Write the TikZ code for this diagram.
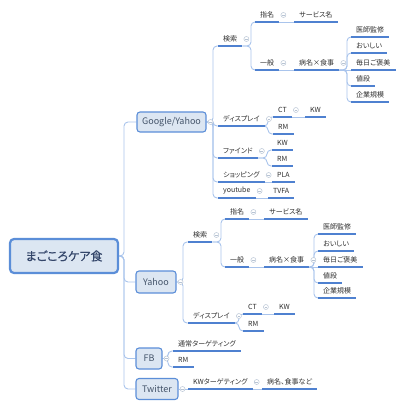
\documentclass[tikz,border=0pt]{standalone}
\usepackage{fontspec}
\setmainfont{Noto Sans CJK JP}[RawFeature=+palt]
\newfontfamily\rootfont{Noto Sans CJK JP}[RawFeature=+palt, FakeBold=0.6]
\usetikzlibrary{backgrounds}
\definecolor{lineblue}{HTML}{A9C4EC}
\definecolor{ulblue}{HTML}{4F81D0}
\definecolor{boxfill}{HTML}{DCE6F2}
\definecolor{boxline}{HTML}{5B8ED8}
\definecolor{boxtext}{HTML}{44546A}
\definecolor{roottext}{HTML}{34466A}
\definecolor{topictext}{HTML}{2E2E2E}
\definecolor{foldgray}{HTML}{B8C4D4}
\tikzset{
  rootbox/.style={draw=boxline, line width=2.2pt, fill=boxfill, rounded corners=4pt,
    minimum width=108pt, minimum height=34pt, text=roottext, font=\rootfont\fontsize{12}{12}\selectfont, inner sep=0pt},
  box/.style={draw=boxline, line width=1.1pt, fill=boxfill, rounded corners=3pt,
    minimum height=20pt, text=boxtext, font=\fontsize{9}{9}\selectfont, inner sep=0pt},
  topic/.style={anchor=south west, inner xsep=5pt, inner ysep=0pt, minimum height=14pt,
    text=topictext, font=\fontsize{7}{7}\selectfont,
    append after command={(\tikzlastnode.south west) edge[uline] (\tikzlastnode.south east)}},
  uline/.style={draw=ulblue, line width=1.4pt},
  conn/.style={draw=lineblue, line width=0.9pt, rounded corners=4pt},
  fold/.style={circle, draw=foldgray, fill=white, line width=0.5pt, minimum size=5pt, inner sep=0pt,
    path picture={\draw[foldgray, line width=0.5pt] ([xshift=-1.4pt]path picture bounding box.center) -- ([xshift=1.4pt]path picture bounding box.center);}},
}
% link: parent anchor, vertical coordinate, child anchor
\newcommand\mmlink[3]{\draw[conn] (#1) -- (#2 |- #1) |- (#3);}
\newcommand\mmfold[1]{\node[fold] at ([xshift=4pt,yshift=7pt]#1.south east) {};}
\newcommand\mmboxfold[1]{\node[fold] at ([xshift=4pt]#1.east) {};}
\begin{document}
\begin{tikzpicture}[x=1pt,y=-1pt]
\useasboundingbox (0,0) rectangle (405,409);
% ---------- root and main boxes
\node[rootbox] (root) at (64,256) {まごころケア食};
\node[box, minimum width=69pt] (gy) at (171.5,122) {Google/Yahoo};
\node[box, minimum width=40pt, minimum height=22pt] (ya) at (156,282) {Yahoo};
\node[box, minimum width=26pt, minimum height=21pt] (fb) at (149,358.5) {FB};
\node[box, minimum width=42pt, minimum height=21pt] (tw) at (157,389) {Twitter};
\coordinate (vroot) at (124,0);
% ---------- Google/Yahoo
\node[topic] (gys) at (218,46) {検索};
\node[topic] (gyd) at (218,126) {ディスプレイ};
\node[topic] (gyf) at (218,158) {ファインド};
\node[topic] (gysh) at (218,182) {ショッピング};
\node[topic] (gyy) at (218,198) {youtube};
\coordinate (vgy) at (213,0);
\node[topic] (gys1) at (255,22) {指名};
\node[topic] (gys2) at (255,70) {一般};
\coordinate (vgys) at (251,0);
\node[topic] (gys1a) at (294,22) {サービス名};
\node[topic] (gys2a) at (294,70) {病名×食事};
\coordinate (vgys2a) at (347,0);
\node[topic] (gyl1) at (351,37) {医師監修};
\node[topic] (gyl2) at (351,53) {おいしい};
\node[topic] (gyl3) at (351,70) {毎日ご褒美};
\node[topic] (gyl4) at (351,86) {値段};
\node[topic] (gyl5) at (351,102) {企業規模};
\node[topic] (gydct) at (273,117) {CT};
\node[topic] (gydrm) at (273,134) {RM};
\coordinate (vgyd) at (268,0);
\node[topic] (gydkw) at (305,117) {KW};
\node[topic] (gyfkw) at (272,150) {KW};
\node[topic] (gyfrm) at (272,166) {RM};
\coordinate (vgyf) at (267,0);
\node[topic] (gypla) at (272,182) {PLA};
\node[topic] (gytv) at (268,198) {TVFA};
% ---------- Yahoo
\node[topic] (yas) at (188,242) {検索};
\node[topic] (yad) at (188,323) {ディスプレイ};
\coordinate (vya) at (183,0);
\node[topic] (yas1) at (225,219) {指名};
\node[topic] (yas2) at (225,267) {一般};
\coordinate (vyas) at (221,0);
\node[topic] (yas1a) at (264,219) {サービス名};
\node[topic] (yas2a) at (264,267) {病名×食事};
\coordinate (vyas2a) at (314,0);
\node[topic] (yal1) at (318,234) {医師監修};
\node[topic] (yal2) at (318,251) {おいしい};
\node[topic] (yal3) at (318,267) {毎日ご褒美};
\node[topic] (yal4) at (318,283) {値段};
\node[topic] (yal5) at (318,298) {企業規模};
\node[topic] (yadct) at (243,314) {CT};
\node[topic] (yadrm) at (243,331) {RM};
\coordinate (vyad) at (239,0);
\node[topic] (yadkw) at (274,314) {KW};
% ---------- FB
\node[topic] (fb1) at (173,351) {通常ターゲティング};
\node[topic] (fb2) at (173,367) {RM};
\coordinate (vfb) at (168,0);
% ---------- Twitter
\node[topic] (tw1) at (188,389) {KWターゲティング};
\node[topic] (tw2) at (262,389) {病名、食事など};
% ---------- fold markers
\mmboxfold{gy}\mmboxfold{ya}\mmboxfold{fb}\mmboxfold{tw}
\mmfold{gys}\mmfold{gys1}\mmfold{gys2}\mmfold{gys2a}
\mmfold{gyd}\mmfold{gydct}\mmfold{gyf}\mmfold{gysh}\mmfold{gyy}
\mmfold{yas}\mmfold{yas1}\mmfold{yas2}\mmfold{yas2a}
\mmfold{yad}\mmfold{yadct}\mmfold{tw1}
% ---------- connectors
\begin{pgfonlayer}{background}
\mmlink{root.east}{vroot}{gy.west}
\mmlink{root.east}{vroot}{ya.west}
\mmlink{root.east}{vroot}{fb.west}
\mmlink{root.east}{vroot}{tw.west}
\foreach \c in {gys,gyd,gyf,gysh,gyy} {\mmlink{gy.east}{vgy}{\c.south west}}
\mmlink{gys.south east}{vgys}{gys1.south west}
\mmlink{gys.south east}{vgys}{gys2.south west}
\draw[conn] (gys1.south east) -- (gys1a.south west);
\draw[conn] (gys2.south east) -- (gys2a.south west);
\foreach \c in {gyl1,gyl2,gyl4,gyl5} {\mmlink{gys2a.south east}{vgys2a}{\c.south west}}
\draw[conn] (gys2a.south east) -- (gyl3.south west);
\mmlink{gyd.south east}{vgyd}{gydct.south west}
\mmlink{gyd.south east}{vgyd}{gydrm.south west}
\draw[conn] (gydct.south east) -- (gydkw.south west);
\mmlink{gyf.south east}{vgyf}{gyfkw.south west}
\mmlink{gyf.south east}{vgyf}{gyfrm.south west}
\draw[conn] (gysh.south east) -- (gypla.south west);
\draw[conn] (gyy.south east) -- (gytv.south west);
\mmlink{ya.east}{vya}{yas.south west}
\mmlink{ya.east}{vya}{yad.south west}
\mmlink{yas.south east}{vyas}{yas1.south west}
\mmlink{yas.south east}{vyas}{yas2.south west}
\draw[conn] (yas1.south east) -- (yas1a.south west);
\draw[conn] (yas2.south east) -- (yas2a.south west);
\foreach \c in {yal1,yal2,yal4,yal5} {\mmlink{yas2a.south east}{vyas2a}{\c.south west}}
\draw[conn] (yas2a.south east) -- (yal3.south west);
\mmlink{yad.south east}{vyad}{yadct.south west}
\mmlink{yad.south east}{vyad}{yadrm.south west}
\draw[conn] (yadct.south east) -- (yadkw.south west);
\mmlink{fb.east}{vfb}{fb1.south west}
\mmlink{fb.east}{vfb}{fb2.south west}
\draw[conn] (tw.east) -- (tw1.south west);
\draw[conn] (tw1.south east) -- (tw2.south west);
\end{pgfonlayer}
\end{tikzpicture}
\end{document}
